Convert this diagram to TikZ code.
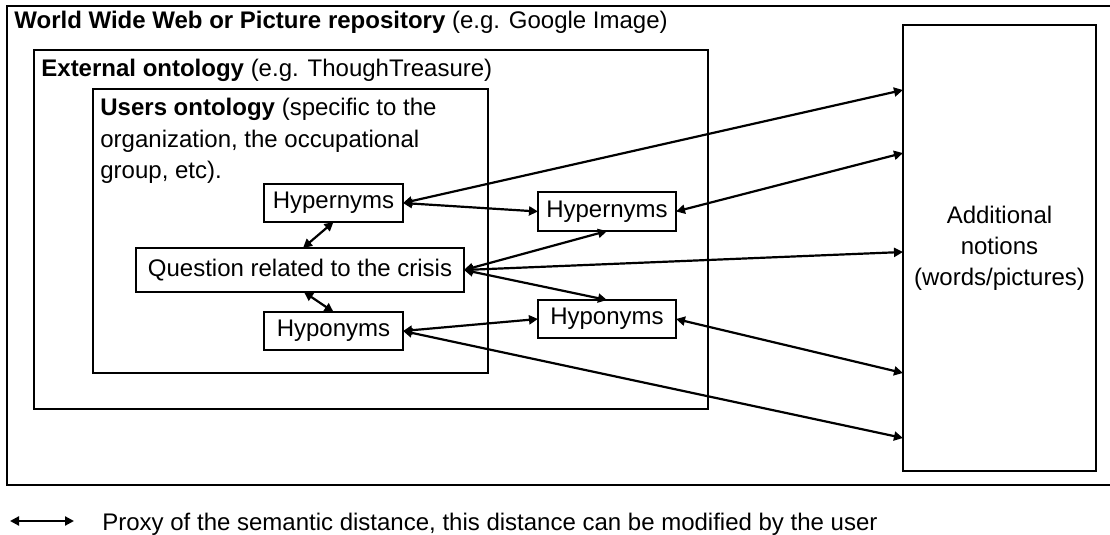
\documentclass[tikz,border=0pt]{standalone}
\usepackage{fontspec}
\setmainfont{Liberation Sans}
\usetikzlibrary{arrows.meta}

\tikzset{
  frame/.style={line width=0.8pt},
  box/.style={draw, line width=0.8pt, inner sep=0pt, outer sep=0pt,
    minimum width=69.5pt, minimum height=19pt},
  link/.style={<->, line width=1.1pt, >={Triangle[length=4.5pt,width=4.5pt]}},
  txt/.style={anchor=base west, inner sep=0pt, align=left}
}

\begin{document}
\begin{tikzpicture}[x=0.5pt, y=-0.5pt, font=\fontsize{12}{16}\selectfont]
  \useasboundingbox (0,0) rectangle (1110,535);

  %frames
  \draw[frame] (7,6) rectangle (1118,485); %web
  \draw[frame] (34,50) rectangle (708,409); %external
  \draw[frame] (93,89) rectangle (488,373); %users
  \node[txt] (web) at (14,29) {\textbf{World Wide Web or Picture repository} (e.g. Google Image)};
  \node[txt] (ext) at (41,77) {\textbf{External ontology} (e.g. ThoughTreasure)};
  \node[txt] (usr) at (100,179) {\textbf{Users ontology} (specific to the\\organization, the occupational\\group, etc).}; %base = last line

  %boxes
  \node[box] (hyperL) at (333.5,203) {Hypernyms};
  \node[box, minimum width=164pt, minimum height=22pt] (question) at (300,270) {Question related to the crisis};
  \node[box] (hypoL) at (333.5,331) {Hyponyms};
  \node[box, minimum width=69pt, minimum height=19.5pt] (hyperR) at (607,211.5) {Hypernyms};
  \node[box, minimum width=69pt, minimum height=19pt] (hypoR) at (607,319) {Hyponyms};
  \node[box, minimum width=96.5pt, minimum height=223pt, align=center,
    font=\fontsize{12}{15.5}\selectfont] (addl) at (999.5,248) {Additional\\notions\\(words/pictures)};

  %points on the left side of addl
  \coordinate (a1) at (903,90);
  \coordinate (a2) at (903,153);
  \coordinate (a3) at (903,252);
  \coordinate (a4) at (903,373);
  \coordinate (a5) at (903,438);

  %links
  \draw[link] (hyperL.south) -- ([xshift=1.5pt]question.north);
  \draw[link] ([xshift=2pt]question.south) -- (hypoL.north);
  \draw[link] (hyperL.east) -- (a1);
  \draw[link] (hyperL.east) -- (hyperR.west);
  \draw[link] (hyperR.east) -- (a2);
  \draw[link] (question.east) -- (hyperR.south);
  \draw[link] (question.east) -- (a3);
  \draw[link] (question.east) -- (hypoR.north);
  \draw[link] (hypoL.east) -- (hypoR.west);
  \draw[link] (hypoR.east) -- (a4);
  \draw[link] (hypoL.east) -- (a5);

  %legend
  \coordinate (l1) at (10,521);
  \coordinate (l2) at (74,521);
  \draw[link] (l1) -- (l2);
  \node[txt] (legend) at (102,530) {Proxy of the semantic distance, this distance can be modified by the user};
\end{tikzpicture}
\end{document}
